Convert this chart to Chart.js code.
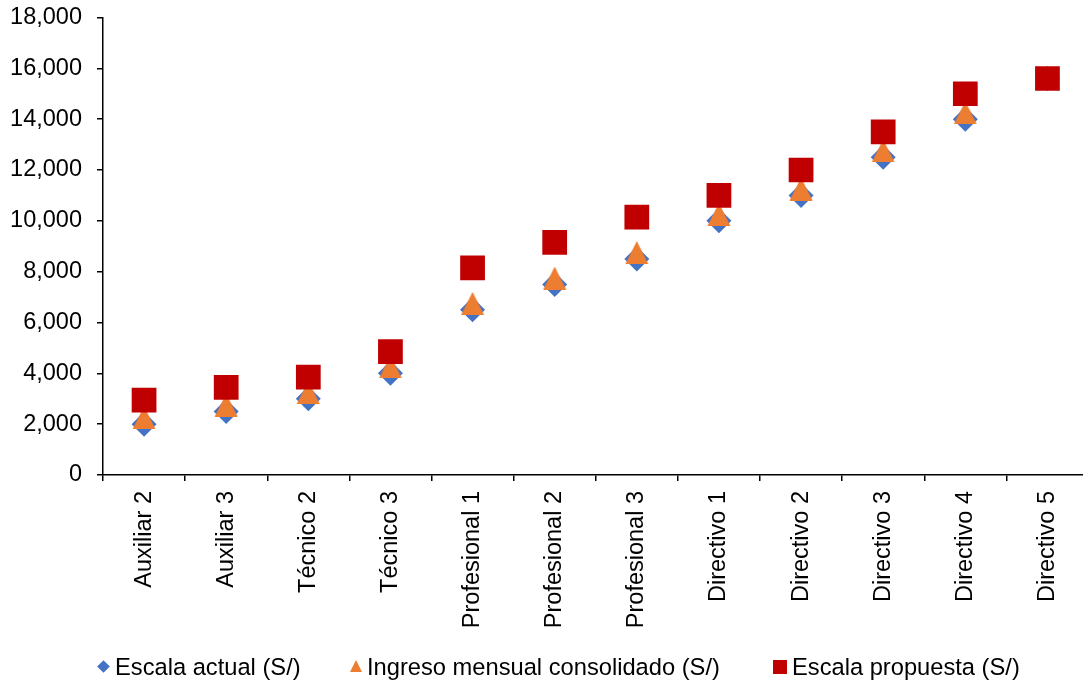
<!DOCTYPE html>
<html>
<head>
<meta charset="utf-8">
<script src="https://cdn.jsdelivr.net/npm/chart.js@4.4.0/dist/chart.umd.min.js"></script>
<style>
    html, body { margin: 0; padding: 0; background: #fff; overflow: hidden; }
    #wrap { position: relative; width: 1106px; height: 684px; }
    #legend { position: absolute; top: 652px; left: 0; width: 1083px; height: 30px;
              font-family: "Liberation Sans", Arial, sans-serif; font-size: 23.7px; color: #000; }
    .item { position: absolute; top: 0; line-height: 30px; white-space: nowrap; }
    .mk { display: inline-block; vertical-align: middle; }
    .diamond { width: 9px; height: 9px; background: #4472c4; transform: rotate(45deg); margin: 0 7px 4px 2px; }
    .triangle { width: 0; height: 0; border-left: 6.5px solid transparent; border-right: 6.5px solid transparent;
                border-bottom: 12px solid #ed7d31; margin: 0 5px 5px 0; }
    .square { width: 14px; height: 14px; background: #c00000; margin: 0 5px 4px 0; }
</style>
</head>
<body>
<div id="wrap">
    <canvas id="grafico" width="1106" height="684"></canvas>
    <div id="legend">
        <div class="item" style="left:97px"><span class="mk diamond"></span>Escala actual (S/)</div>
        <div class="item" style="left:350px"><span class="mk triangle"></span>Ingreso mensual consolidado (S/)</div>
        <div class="item" style="left:773px"><span class="mk square"></span>Escala propuesta (S/)</div>
    </div>
</div>
<script>
// Categorias del eje X
const categorias = ['Auxiliar 2', 'Auxiliar 3', 'Técnico 2', 'Técnico 3', 'Profesional 1', 'Profesional 2',
    'Profesional 3', 'Directivo 1', 'Directivo 2', 'Directivo 3', 'Directivo 4', 'Directivo 5'];

// Series (S/)
const escalaActual = [2000, 2500, 3000, 4000, 6500, 7500, 8500, 10000, 11000, 12500, 14000, 15600];
const ingresoMensual = [2250, 2750, 3250, 4250, 6750, 7750, 8750, 10250, 11250, 12750, 14250, null];
const escalaPropuesta = [2950, 3450, 3850, 4850, 8150, 9150, 10150, 11000, 12000, 13500, 15000, 15600];

// Eje Y
const yMin = 0;
const yMax = 18000;
const yPaso = 2000;

const fuente = { family: '"Liberation Sans", Arial, sans-serif', size: 23.5 };

// triangulo estilo Excel: centrado en su caja, no en el baricentro
function marcadorTriangulo(color) {
    const c = document.createElement('canvas');
    c.width = 24;
    c.height = 23;
    const g = c.getContext('2d');
    g.fillStyle = color;
    g.beginPath();
    g.moveTo(12, 0);
    g.lineTo(23.5, 23);
    g.lineTo(0.5, 23);
    g.closePath();
    g.fill();
    return c;
}

const datos = {
    labels: categorias,
    datasets: [
        {
            label: 'Escala actual (S/)',
            data: escalaActual,
            pointStyle: 'rectRot',
            pointRadius: 12.5,
            backgroundColor: '#4472c4',
            borderColor: '#4472c4',
            order: 3
        },
        {
            label: 'Ingreso mensual consolidado (S/)',
            data: ingresoMensual,
            pointStyle: marcadorTriangulo('#ed7d31'),
            pointRadius: 12,
            backgroundColor: '#ed7d31',
            borderColor: '#ed7d31',
            order: 2
        },
        {
            label: 'Escala propuesta (S/)',
            data: escalaPropuesta,
            pointStyle: 'rect',
            pointRadius: 17.5,
            backgroundColor: '#c00000',
            borderColor: '#c00000',
            order: 1
        }
    ]
};

new Chart(document.getElementById('grafico').getContext('2d'), {
    type: 'line',
    data: datos,
    options: {
        responsive: false,
        animation: false,
        devicePixelRatio: 1,
        showLine: false,
        elements: { point: { borderWidth: 0, hoverRadius: 0 } },
        layout: { padding: { top: 16, left: 10, right: 0, bottom: 49 } },
        plugins: {
            legend: { display: false },
            tooltip: { enabled: false }
        },
        scales: {
            x: {
                offset: true,
                grid: { offset: true, drawOnChartArea: false, drawTicks: true, tickLength: 6, color: '#000', lineWidth: 1.5 },
                border: { display: true, color: '#000', width: 1.5 },
                ticks: { font: fuente, color: '#000', minRotation: 90, maxRotation: 90, autoSkip: false, padding: 10 },
                afterFit: s => { s.height = 160; s.paddingLeft = 0; s.paddingRight = 0; }
            },
            y: {
                min: yMin,
                max: yMax,
                grid: { drawOnChartArea: false, drawTicks: true, tickLength: 6, color: '#000', lineWidth: 1.5 },
                border: { display: true, color: '#000', width: 1.5 },
                ticks: {
                    stepSize: yPaso,
                    font: fuente,
                    color: '#000',
                    padding: 15,
                    callback: v => v.toLocaleString('en-US')
                },
                afterFit: s => { s.width = 93; s.paddingTop = 0; s.paddingBottom = 0; }
            }
        }
    }
});
</script>
</body>
</html>
